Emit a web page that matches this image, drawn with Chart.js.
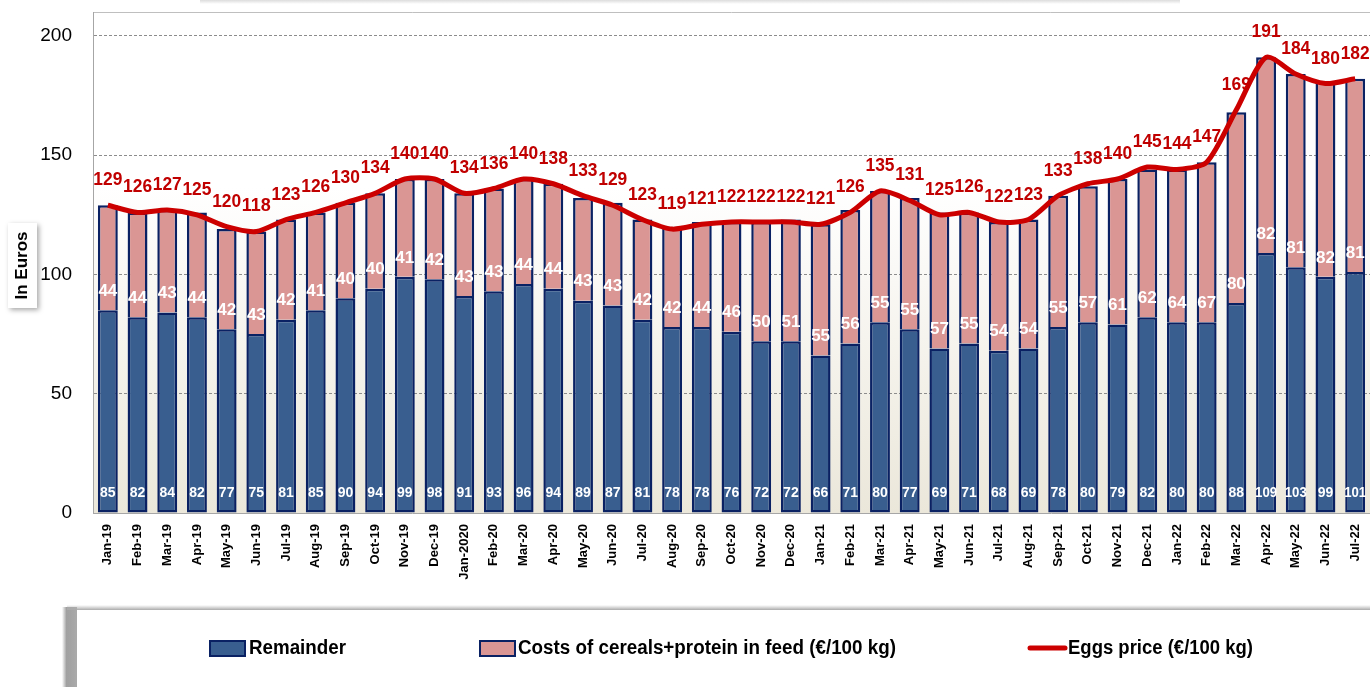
<!DOCTYPE html>
<html>
<head>
<meta charset="utf-8">
<title>Eggs price vs feed costs</title>
<script src="https://cdn.jsdelivr.net/npm/chart.js@4.4.1/dist/chart.umd.min.js"></script>
<style>
  html, body { margin: 0; padding: 0; background: #fff; }
  #wrap { width: 1370px; height: 687px; position: relative; }
</style>
</head>
<body>
<div id="wrap"><canvas id="eggsChart" width="1370" height="687"></canvas></div>
<script>
// chart data
const months = ['Jan-19', 'Feb-19', 'Mar-19', 'Apr-19', 'May-19', 'Jun-19', 'Jul-19', 'Aug-19', 'Sep-19', 'Oct-19',
    'Nov-19', 'Dec-19', 'Jan-2020', 'Feb-20', 'Mar-20', 'Apr-20', 'May-20', 'Jun-20', 'Jul-20', 'Aug-20',
    'Sep-20', 'Oct-20', 'Nov-20', 'Dec-20', 'Jan-21', 'Feb-21', 'Mar-21', 'Apr-21', 'May-21', 'Jun-21',
    'Jul-21', 'Aug-21', 'Sep-21', 'Oct-21', 'Nov-21', 'Dec-21', 'Jan-22', 'Feb-22', 'Mar-22', 'Apr-22',
    'May-22', 'Jun-22', 'Jul-22'];
const remainder = [85, 82, 84, 82, 77, 75, 81, 85, 90, 94, 99, 98, 91, 93, 96, 94, 89, 87, 81, 78,
    78, 76, 72, 72, 66, 71, 80, 77, 69, 71, 68, 69, 78, 80, 79, 82, 80, 80, 88, 109, 103, 99, 101];
const feedCosts = [44, 44, 43, 44, 42, 43, 42, 41, 40, 40, 41, 42, 43, 43, 44, 44, 43, 43, 42, 42,
    44, 46, 50, 51, 55, 56, 55, 55, 57, 55, 54, 54, 55, 57, 61, 62, 64, 67, 80, 82, 81, 82, 81];
const eggsPrice = [129, 126, 127, 125, 120, 118, 123, 126, 130, 134, 140, 140, 134, 136, 140, 138, 133, 129, 123, 119,
    121, 122, 122, 122, 121, 126, 135, 131, 125, 126, 122, 123, 133, 138, 140, 145, 144, 147, 169, 191, 184, 180, 182];
const yTicks = [0, 50, 100, 150, 200];

const seriesNames = ['Eggs price (€/100 kg)', 'Remainder', 'Costs of cereals+protein in feed (€/100 kg)'];
const axisTitle = 'In Euros';

const BLUE = '#395E8F';
const PINK = '#DA9694';
const NAVY = '#0A2163';
const RED = '#CC0000';
const LABEL_RED = '#C00000';
const FONT = "'Liberation Sans', Arial, sans-serif";

// plot area background: white fading to beige at the bottom, plus top frame line
const backgroundPlugin = {
    id: 'plotBackground',
    beforeDraw(chart) {
        const { ctx, chartArea: a } = chart;
        ctx.save();
        // faint strip at the very top of the picture
        const strip = ctx.createLinearGradient(0, 0, 0, 4);
        strip.addColorStop(0, '#DCDCDC');
        strip.addColorStop(1, '#FFFFFF');
        ctx.fillStyle = strip;
        ctx.fillRect(200, 0, 980, 4);

        const g = ctx.createLinearGradient(0, a.top, 0, a.bottom);
        g.addColorStop(0, '#FFFFFF');
        g.addColorStop(0.35, '#FFFFFF');
        g.addColorStop(1, '#EBE7DA');
        ctx.fillStyle = g;
        ctx.fillRect(a.left, a.top, a.right - a.left, a.bottom - a.top);

        ctx.strokeStyle = '#BFBFBF';
        ctx.lineWidth = 1;
        ctx.beginPath();
        ctx.moveTo(a.left, a.top + 0.5);
        ctx.lineTo(a.right, a.top + 0.5);
        ctx.stroke();
        ctx.restore();
    }
};

// value labels: red prices above the line, white values inside the bars
const labelPlugin = {
    id: 'valueLabels',
    afterDatasetsDraw(chart) {
        const ctx = chart.ctx;
        const lineMeta = chart.getDatasetMeta(0);
        const remMeta = chart.getDatasetMeta(1);
        const costMeta = chart.getDatasetMeta(2);
        const yScale = chart.scales.y;
        ctx.save();
        ctx.textAlign = 'center';
        ctx.textBaseline = 'middle';

        // remainder values near the bar bottoms
        ctx.fillStyle = '#FFFFFF';
        ctx.font = 'bold 14px ' + FONT;
        remMeta.data.forEach((bar, i) => {
            ctx.fillText(String(remainder[i]), bar.x, yScale.getPixelForValue(0) - 20, 22);
        });

        // feed costs just above the remainder segment
        ctx.font = 'bold 17px ' + FONT;
        costMeta.data.forEach((bar, i) => {
            ctx.fillText(String(feedCosts[i]), bar.x, bar.base - 19);
        });

        // egg prices above the line
        ctx.fillStyle = LABEL_RED;
        ctx.font = 'bold 18px ' + FONT;
        lineMeta.data.forEach((pt, i) => {
            ctx.fillText(String(eggsPrice[i]), pt.x, pt.y - 25, 29);
        });
        ctx.restore();
    }
};

// y-axis title box and the legend box at the bottom
const decorPlugin = {
    id: 'decor',
    afterDraw(chart) {
        const ctx = chart.ctx;
        ctx.save();

        // "In Euros" box
        ctx.shadowColor = 'rgba(0,0,0,0.35)';
        ctx.shadowBlur = 5;
        ctx.shadowOffsetX = 2;
        ctx.shadowOffsetY = 2;
        ctx.fillStyle = '#FFFFFF';
        ctx.fillRect(8, 223, 29, 85);
        ctx.shadowColor = 'transparent';
        ctx.save();
        ctx.translate(22.5, 265.5);
        ctx.rotate(-Math.PI / 2);
        ctx.fillStyle = '#000000';
        ctx.font = 'bold 17px ' + FONT;
        ctx.textAlign = 'center';
        ctx.textBaseline = 'middle';
        ctx.fillText(axisTitle, 0, 0);
        ctx.restore();

        // legend frame with shadow on left and top
        const lx = 77, ly = 610;
        const sideShade = ctx.createLinearGradient(lx - 15, 0, lx, 0);
        sideShade.addColorStop(0, 'rgba(150,150,150,0)');
        sideShade.addColorStop(0.3, 'rgba(150,150,150,0.9)');
        sideShade.addColorStop(1, 'rgba(170,170,170,1)');
        ctx.fillStyle = sideShade;
        ctx.fillRect(lx - 15, ly - 3, 15, 687 - ly + 3);
        const topShade = ctx.createLinearGradient(0, ly - 5, 0, ly);
        topShade.addColorStop(0, 'rgba(180,180,180,0)');
        topShade.addColorStop(1, 'rgba(170,170,170,1)');
        ctx.fillStyle = topShade;
        ctx.fillRect(lx - 10, ly - 5, 1370 - lx + 10, 5);
        ctx.fillStyle = '#FFFFFF';
        ctx.fillRect(lx, ly, 1370 - lx, 687 - ly);

        const cy = 648;
        ctx.font = 'bold 20px ' + FONT;
        ctx.textAlign = 'left';
        ctx.textBaseline = 'middle';

        // Remainder
        ctx.fillStyle = BLUE;
        ctx.fillRect(210, 641, 35, 15);
        ctx.strokeStyle = NAVY;
        ctx.lineWidth = 2;
        ctx.strokeRect(210, 641, 35, 15);
        ctx.fillStyle = '#000000';
        ctx.fillText(seriesNames[1], 249, cy, 97);

        // Costs
        ctx.fillStyle = PINK;
        ctx.fillRect(480, 641, 35, 15);
        ctx.strokeRect(480, 641, 35, 15);
        ctx.fillStyle = '#000000';
        ctx.fillText(seriesNames[2], 518, cy, 378);

        // Eggs price
        ctx.strokeStyle = RED;
        ctx.lineWidth = 5;
        ctx.lineCap = 'round';
        ctx.beginPath();
        ctx.moveTo(1030, cy);
        ctx.lineTo(1065, cy);
        ctx.stroke();
        ctx.fillStyle = '#000000';
        ctx.fillText(seriesNames[0], 1068, cy, 185);

        ctx.restore();
    }
};

new Chart(document.getElementById('eggsChart').getContext('2d'), {
    data: {
        labels: months,
        datasets: [{
            type: 'line',
            label: seriesNames[0],
            data: eggsPrice,
            stack: 'price',
            borderColor: RED,
            borderWidth: 5,
            tension: 0.25,
            pointRadius: 0,
            fill: false,
            order: 0
        }, {
            type: 'bar',
            label: seriesNames[1],
            data: remainder,
            stack: 'feed',
            backgroundColor: BLUE,
            borderColor: NAVY,
            borderWidth: 2.5,
            borderSkipped: false,
            barPercentage: 0.67,
            categoryPercentage: 1,
            order: 1
        }, {
            type: 'bar',
            label: seriesNames[2],
            data: feedCosts,
            stack: 'feed',
            backgroundColor: PINK,
            borderColor: NAVY,
            borderWidth: 2.5,
            borderSkipped: 'start',
            barPercentage: 0.67,
            categoryPercentage: 1,
            order: 1
        }]
    },
    options: {
        responsive: false,
        animation: false,
        devicePixelRatio: 1,
        layout: { padding: { top: 12, right: 0, bottom: 0, left: 0 } },
        plugins: {
            legend: { display: false },
            tooltip: { enabled: false }
        },
        scales: {
            x: {
                stacked: true,
                afterFit: (scale) => {
                    scale.height = 174;
                    scale.paddingLeft = 0;
                    scale.paddingRight = 0;
                },
                grid: { display: false, drawTicks: false },
                border: { display: true, color: '#A6A6A6', width: 1 },
                ticks: {
                    autoSkip: false,
                    maxRotation: 90,
                    minRotation: 90,
                    padding: 11,
                    color: '#000000',
                    font: { family: FONT, size: 13, weight: 'bold' }
                }
            },
            y: {
                stacked: true,
                min: 0,
                max: 210,
                afterFit: (scale) => {
                    scale.width = 93;
                    scale.paddingTop = 0;
                    scale.paddingBottom = 0;
                },
                afterBuildTicks: (scale) => { scale.ticks = yTicks.map(v => ({ value: v })); },
                grid: {
                    drawTicks: false,
                    color: (c) => (c.tick && c.tick.value === 0) ? 'rgba(0,0,0,0)' : '#8C8C8C',
                    lineWidth: 1
                },
                border: { display: true, color: '#A6A6A6', width: 1, dash: [3, 2] },
                ticks: {
                    padding: 21,
                    color: '#000000',
                    font: { family: FONT, size: 19 }
                }
            }
        }
    },
    plugins: [backgroundPlugin, labelPlugin, decorPlugin]
});
</script>
</body>
</html>
